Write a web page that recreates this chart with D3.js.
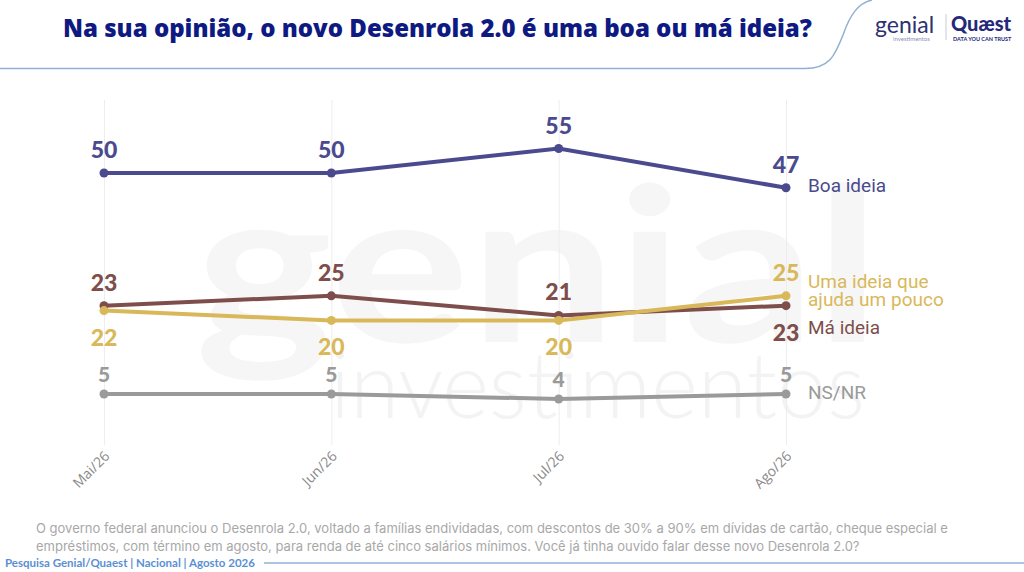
<!DOCTYPE html>
<html lang="pt-BR">
<head>
    <meta charset="UTF-8">
    <title>Desenrola 2.0</title>
    <style>
        body { margin: 0; background: #fff; }
        svg { display: block; }
        .tick line { stroke: #ededed; }
        .tick text { font-family: 'Open Sans', sans-serif; font-size: 14px; fill: #8a8a8a; }
    </style>
    <script src="https://cdn.jsdelivr.net/npm/d3@7"></script>
</head>
<body>
<svg class="chart" width="1024" height="572"></svg>
<script>
    // dados
    const months = ['Mai/26', 'Jun/26', 'Jul/26', 'Ago/26'],
        boa = [50, 50, 55, 47],
        ma = [23, 25, 21, 23],
        uma = [22, 20, 20, 25],
        nsnr = [5, 5, 4, 5];

    const series = [
        {name: 'Boa ideia', values: boa, color: '#4b4a8e', side: ['up', 'up', 'up', 'up'], legend: ['Boa ideia'], ly: 192},
        {name: 'Má ideia', values: ma, color: '#7e4e4c', side: ['up', 'up', 'up', 'down'], legend: ['Má ideia'], ly: 334},
        {name: 'Uma ideia', values: uma, color: '#d9b85a', side: ['down', 'down', 'down', 'up'], legend: ['Uma ideia que', 'ajuda um pouco'], ly: 288},
        {name: 'NS/NR', values: nsnr, color: '#9a9a9a', side: ['up', 'up', 'up', 'up'], legend: ['NS/NR'], ly: 399, small: true}
    ];

    const svg = d3.select('.chart');

    // marca d'agua
    svg.append('text').text('genial')
        .attr('x', 195).attr('y', 342)
        .attr('textLength', 685).attr('lengthAdjust', 'spacingAndGlyphs')
        .style('font-family', 'Lato, sans-serif').style('font-size', '215px').style('font-weight', 700)
        .style('fill', '#f6f6f6');
    svg.append('text').text('investimentos')
        .attr('x', 330).attr('y', 418)
        .attr('textLength', 535).attr('lengthAdjust', 'spacingAndGlyphs')
        .style('font-family', 'Lato, sans-serif').style('font-size', '92px').style('font-weight', 300)
        .style('fill', '#f3f3f3');

    // cabeçalho
    svg.append('path')
        .attr('d', 'M0,68.5 L805,68.5 C830,68.5 835,55 843,35 C850,15 858,3 872,0')
        .attr('fill', 'none').attr('stroke', '#8fb0d4').attr('stroke-width', 1.5);

    svg.append('text').text('Na sua opinião, o novo Desenrola 2.0 é uma boa ou má ideia?')
        .attr('x', 63).attr('y', 37)
        .style('font-family', "'Open Sans', sans-serif").style('font-size', '24px').style('font-weight', 800)
        .style('fill', '#0e1a82');

    // logos
    svg.append('text').text('genial')
        .attr('x', 875).attr('y', 33)
        .style('font-family', 'Lato, sans-serif').style('font-size', '23px').style('font-weight', 400)
        .style('fill', '#2d3170');
    svg.append('text').text('investimentos')
        .attr('x', 893).attr('y', 41)
        .style('font-family', 'Lato, sans-serif').style('font-size', '6px').style('fill', '#8a8fb8');
    svg.append('line').attr('x1', 946).attr('x2', 946).attr('y1', 14).attr('y2', 40)
        .attr('stroke', '#c8c8d8');
    svg.append('text').text('Quæst')
        .attr('x', 951).attr('y', 31)
        .style('font-family', 'Lato, sans-serif').style('font-size', '20px').style('font-weight', 900)
        .style('fill', '#24297a');
    svg.append('text').text('DATA YOU CAN TRUST')
        .attr('x', 953).attr('y', 41)
        .style('font-family', 'Lato, sans-serif').style('font-size', '5.5px').style('font-weight', 700)
        .style('fill', '#24297a');

    // escalas
    const x = d3.scalePoint().domain(months).range([104, 786]),
        y = d3.scaleLinear().domain([0, 55]).range([418.6, 148.5]);

    // eixo x com linhas verticais
    const axisY = 445;
    svg.append('g')
        .attr('transform', 'translate(0,' + axisY + ')')
        .call(d3.axisBottom(x).tickSize(-(axisY - 100)).tickPadding(0))
        .call(g => g.select('.domain').remove())
        .selectAll('text')
        .attr('text-anchor', 'end')
        .attr('dy', 0)
        .attr('transform', 'translate(6,12) rotate(-45)');

    const line = d3.line().x((d, i) => x(months[i])).y(d => y(d));

    // linhas
    const sg = svg.selectAll('.serie').data(series).enter().append('g').attr('class', 'serie');

    sg.append('path')
        .attr('d', d => line(d.values))
        .attr('fill', 'none')
        .attr('stroke', d => d.color)
        .attr('stroke-width', 4);

    sg.selectAll('circle')
        .data(d => d.values.map((v, i) => ({v, i, s: d})))
        .enter().append('circle')
        .attr('cx', d => x(months[d.i]))
        .attr('cy', d => y(d.v))
        .attr('r', 4.5)
        .attr('fill', d => d.s.color);

    // rótulos de valores
    sg.selectAll('.val')
        .data(d => d.values.map((v, i) => ({v, i, s: d})))
        .enter().append('text')
        .attr('class', 'val')
        .text(d => d.v)
        .attr('x', d => x(months[d.i]))
        .attr('y', d => y(d.v) + (d.s.side[d.i] === 'up' ? (d.s.small ? -12 : -15) : 35))
        .attr('text-anchor', 'middle')
        .style('font-family', 'Lato, sans-serif')
        .style('font-size', d => d.s.small ? '21px' : '23px')
        .style('font-weight', 900)
        .style('fill', d => d.s.color);

    // legendas diretas
    sg.each(function (d) {
        const t = d3.select(this).append('text')
            .attr('x', 808).attr('y', d.ly)
            .style('font-family', 'Roboto, sans-serif')
            .style('font-size', '19px')
            .style('fill', d.color);
        d.legend.forEach((l, i) => {
            t.append('tspan').attr('x', 808).attr('dy', i === 0 ? 0 : 18).text(l);
        });
    });

    // nota de rodapé
    const note = [
        'O governo federal anunciou o Desenrola 2.0, voltado a famílias endividadas, com descontos de 30% a 90% em dívidas de cartão, cheque especial e',
        'empréstimos, com término em agosto, para renda de até cinco salários mínimos. Você já tinha ouvido falar desse novo Desenrola 2.0?'
    ];
    svg.selectAll('.note').data(note).enter().append('text')
        .attr('class', 'note')
        .attr('x', 36).attr('y', (d, i) => 533 + i * 18)
        .text(d => d)
        .style('font-family', 'Inter, sans-serif')
        .style('font-size', '13px')
        .style('fill', '#a8a8a8');

    svg.append('text').text('Pesquisa Genial/Quaest | Nacional | Agosto 2026')
        .attr('x', 5).attr('y', 567)
        .style('font-family', 'Lato, sans-serif').style('font-size', '11.5px').style('font-weight', 700)
        .style('fill', '#5b8fd4');
    svg.append('line').attr('x1', 264).attr('x2', 1024).attr('y1', 563).attr('y2', 563)
        .attr('stroke', '#8fb0d4').attr('stroke-width', 1.5);
</script>
</body>
</html>
